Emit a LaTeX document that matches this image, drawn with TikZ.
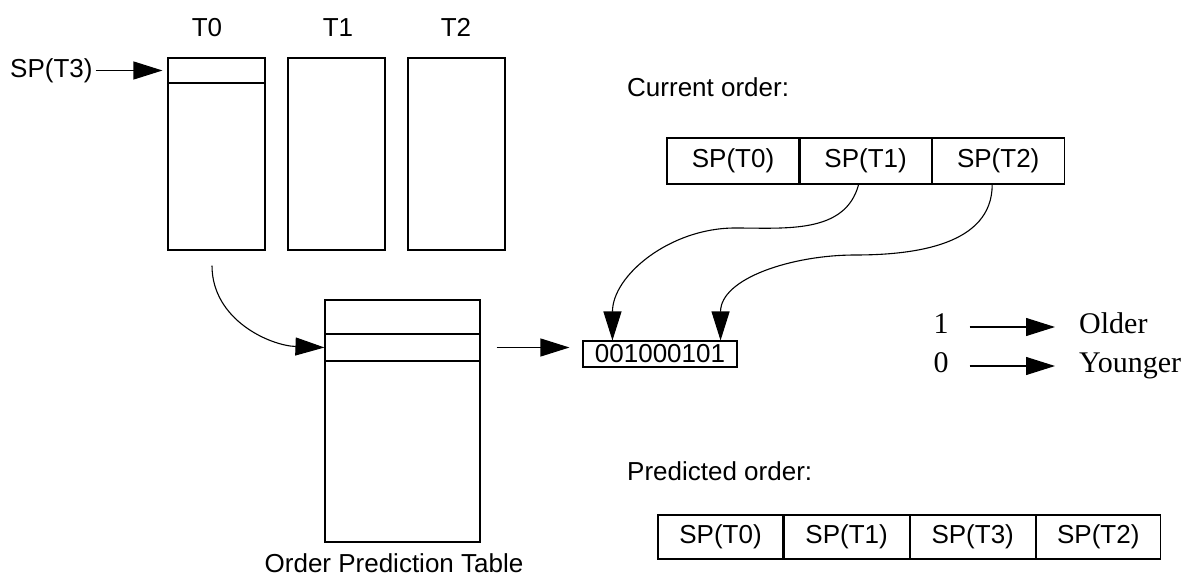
\documentclass[tikz,border=0pt]{standalone}
\usepackage{fontspec}
\setmainfont{Liberation Sans}
\newfontfamily\legfont{Liberation Serif}
\usetikzlibrary{arrows.meta,positioning}

\begin{document}
\begin{tikzpicture}[x=1pt,y=1pt,
    lw/.style={line width=1.1pt},
    col/.style={draw, lw, minimum width=97pt, minimum height=192pt, inner sep=0pt},
    cell/.style={draw, lw, minimum height=46pt, inner sep=0pt, font=\fontsize{26}{30}\selectfont},
    txt/.style={inner sep=3pt, font=\fontsize{26}{30}\selectfont},
    leg/.style={inner sep=3pt, font=\fontsize{30}{34}\selectfont\legfont},
    arr/.style={lw, -{Triangle[length=29pt,width=18pt]}}]
  \useasboundingbox (0,0) rectangle (1190,-580);
  % thread stacks
  \node[col] (t0) at (216.5,-154) {};
  \node[col] (t1) at (336.5,-154) {};
  \node[col] (t2) at (456.5,-154) {};
  \node[txt, anchor=base] (l0) at (207,-37) {T0};
  \node[txt, anchor=base] (l1) at (338,-37) {T1};
  \node[txt, anchor=base] (l2) at (456,-37) {T2};
  \node[draw, lw, minimum width=97pt, minimum height=25pt, inner sep=0pt] (slot) at (216.5,-70.5) {};
  \node[txt, anchor=base west] (sp3) at (7,-78) {SP(T3)};
  \draw[arr, shorten >=5pt] (sp3.east |- slot.west) -- (slot.west);

  % order prediction table
  \node[draw, lw, minimum width=155pt, minimum height=242pt, inner sep=0pt] (opt) at (402.5,-421) {};
  \node[draw, lw, minimum width=155pt, minimum height=27pt, inner sep=0pt] (row) at (402.5,-347.5) {};
  \node[txt, anchor=base] (optl) at (394,-572) {Order Prediction Table};
  \draw[arr] ([xshift=-4.5pt,yshift=-15pt]t0.south) to[out=-90,in=178] (row.west);

  \node[draw, lw, minimum width=154pt, minimum height=26pt, inner sep=0pt,
    font=\fontsize{26}{30}\selectfont] (bits) at (660,-354) {001000101};
  \draw[arr, shorten <=16pt, shorten >=13pt] (row.east) -- (row.east -| bits.west);

  % current order
  \node[txt, anchor=base west] (cur) at (624,-97) {Current order:};
  \node[cell, minimum width=132pt] (c0) at (733,-161) {SP(T0)};
  \node[cell, minimum width=131pt, right=0pt of c0] (c1) {SP(T1)};
  \node[cell, minimum width=132pt, right=0pt of c1] (c2) {SP(T2)};
  \draw[arr] ([xshift=-7pt]c1.south) to[out=-105,in=0] (735,-228)
    to[out=180,in=90] ([xshift=30pt]bits.north west);
  \draw[arr] ([xshift=-6pt]c2.south) to[out=-90,in=0] (855,-255)
    to[out=180,in=90] ([xshift=-17pt]bits.north east);

  % legend
  \node[leg, anchor=base] (one) at (941,-333) {1};
  \node[leg, anchor=base west] (older) at (1076,-333) {Older};
  \node[leg, anchor=base] (zero) at (941,-372) {0};
  \node[leg, anchor=base west] (younger) at (1076,-372) {Younger};
  \draw[arr, shorten <=18pt, shorten >=21pt] ([yshift=6pt]one.base east) -- ([yshift=6pt]older.base west);
  \draw[arr, shorten <=18pt, shorten >=21pt] ([yshift=6pt]zero.base east) -- ([yshift=6pt]younger.base west);

  % predicted order
  \node[txt, anchor=base west] (pred) at (624,-480) {Predicted order:};
  \node[cell, minimum width=125pt, minimum height=44pt] (p0) at (720.5,-537) {SP(T0)};
  \node[cell, minimum width=125pt, minimum height=44pt, right=0pt of p0] (p1) {SP(T1)};
  \node[cell, minimum width=125pt, minimum height=44pt, right=0pt of p1] (p2) {SP(T3)};
  \node[cell, minimum width=124pt, minimum height=44pt, right=0pt of p2] (p3) {SP(T2)};
\end{tikzpicture}
\end{document}
